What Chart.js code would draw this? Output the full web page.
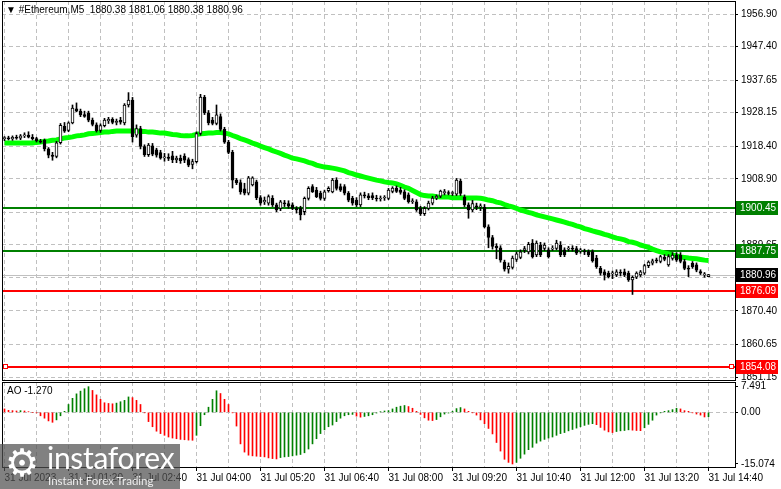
<!DOCTYPE html>
<html>
<head>
<meta charset="utf-8">
<title>#Ethereum,M5</title>
<script src="https://cdn.jsdelivr.net/npm/chart.js@4.4.1/dist/chart.umd.min.js"></script>
<style>
  html, body { margin: 0; padding: 0; background: #fff; }
  #wrap { position: relative; width: 781px; height: 489px; overflow: hidden; font-family: "Liberation Sans", Arial, sans-serif; }
  canvas { position: absolute; left: 0; }
  #main { top: 0; }
  #ao { top: 381px; }
  .caption { position: absolute; font-size: 10px; line-height: 12px; color: #000; white-space: pre; }
  #title { left: 6px; top: 4px; }
  #title .tri { font-size: 10px; }
  #aoTitle { left: 7px; top: 385px; }
  #wm { position: absolute; left: 0; top: 444px; width: 180px; height: 45px; background: rgba(80, 80, 80, 0.72); color: #fff; }
  #wm .gear { position: absolute; left: 5px; top: -1px; font-family: "DejaVu Sans", sans-serif; font-size: 38px; line-height: 40px; }
  #wm .brand { position: absolute; left: 47px; top: -4px; font-family: Lato, "Open Sans", sans-serif; font-size: 30px; line-height: 34px; letter-spacing: -0.3px; }
  #wm .tag { position: absolute; left: 48px; top: 30px; font-family: Lato, "Open Sans", sans-serif; font-size: 11.5px; line-height: 13px; color: rgba(255, 255, 255, 0.85); }
</style>
</head>
<body>
<div id="wrap">
  <canvas id="main" width="781" height="381"></canvas>
  <canvas id="ao" width="781" height="108"></canvas>
  <div id="title" class="caption"></div>
  <div id="aoTitle" class="caption"></div>
  <div id="wm"><span class="gear">⚙</span><span class="brand">instaforex</span><span class="tag">Instant Forex Trading</span></div>
</div>
<script>
// --- data (M5 bars, 31 Jul 00:00 .. 14:40) ---
const symbol = '#Ethereum,M5';

const timeLabels = ['31 Jul 2023', '31 Jul 01:20', '31 Jul 02:40', '31 Jul 04:00', '31 Jul 05:20', '31 Jul 06:40',
  '31 Jul 08:00', '31 Jul 09:20', '31 Jul 10:40', '31 Jul 12:00', '31 Jul 13:20', '31 Jul 14:40'];
const labelBars = [0, 16, 32, 48, 64, 80, 96, 112, 128, 144, 160, 176];

const priceTicks = [1956.90, 1947.40, 1937.65, 1928.15, 1918.40, 1908.90, 1899.15, 1889.65, 1880.15, 1870.40, 1860.65, 1851.15];
const aoTicks = [7.491, 0, -15.074];
const aoTickLabels = ['7.491', '0.00', '-15.074'];

const levels = [1900.45, 1887.75, 1876.09, 1854.08];

const opens = [
  1920.6, 1920.8, 1920.5, 1921.0, 1920.7, 1921.4, 1921.6, 1921.0, 1920.6, 1919.9,
  1920.1, 1917.6, 1915.8, 1915.4, 1919.4, 1924.2, 1923.0, 1925.2, 1929.3, 1928.6,
  1927.6, 1928.0, 1926.0, 1924.6, 1923.0, 1924.4, 1925.8, 1926.2, 1925.3, 1925.9,
  1925.2, 1930.4, 1931.8, 1921.6, 1923.5, 1918.3, 1915.9, 1918.5, 1917.3, 1916.5,
  1915.0, 1915.2, 1915.6, 1914.4, 1914.9, 1915.5, 1914.5, 1913.1, 1913.9, 1922.1,
  1932.6, 1928.1, 1926.0, 1925.0, 1927.0, 1923.3, 1919.6, 1916.6, 1908.5, 1907.8,
  1906.0, 1904.7, 1907.1, 1908.0, 1903.4, 1902.2, 1901.8, 1903.2, 1901.3, 1900.3,
  1901.8, 1901.7, 1901.3, 1900.2, 1900.3, 1899.3, 1903.2, 1906.6, 1905.6, 1904.7,
  1903.2, 1905.4, 1905.1, 1908.5, 1906.6, 1906.6, 1904.7, 1903.2, 1902.7, 1901.3,
  1904.2, 1903.9, 1904.0, 1903.3, 1903.0, 1903.3, 1903.2, 1905.2, 1906.2, 1905.6,
  1905.1, 1904.2, 1902.2, 1902.2, 1900.3, 1898.7, 1900.3, 1901.8, 1903.3, 1903.8,
  1904.8, 1904.8, 1904.6, 1904.4, 1908.2, 1903.6, 1901.3, 1899.8, 1901.0, 1900.6,
  1900.6, 1894.9, 1891.8, 1889.2, 1888.8, 1884.6, 1882.6, 1883.1, 1885.4, 1886.0,
  1888.0, 1887.6, 1890.2, 1886.7, 1889.6, 1888.6, 1888.2, 1888.4, 1888.6, 1889.6,
  1888.2, 1888.4, 1888.6, 1888.6, 1887.9, 1887.9, 1887.7, 1887.7, 1885.8, 1882.8,
  1881.8, 1881.4, 1881.2, 1880.9, 1881.6, 1881.8, 1881.4, 1879.4, 1880.2, 1880.9,
  1881.4, 1883.6, 1884.3, 1885.2, 1884.8, 1886.0, 1883.8, 1885.7, 1886.7, 1886.7,
  1884.8, 1882.8, 1884.3, 1883.8, 1881.9, 1880.9, 1880.38
];
const highs = [
  1921.2, 1921.3, 1921.4, 1921.6, 1921.8, 1922.3, 1922.6, 1921.8, 1921.0, 1920.4,
  1920.5, 1918.0, 1916.6, 1919.8, 1925.0, 1925.3, 1925.5, 1930.4, 1931.0, 1929.2,
  1928.6, 1928.6, 1926.6, 1925.2, 1924.9, 1926.5, 1926.8, 1926.7, 1926.3, 1926.8,
  1930.8, 1934.0, 1932.6, 1924.6, 1924.2, 1918.8, 1919.2, 1919.2, 1917.8, 1917.2,
  1916.3, 1916.2, 1916.9, 1915.5, 1915.8, 1916.2, 1915.0, 1914.6, 1922.6, 1933.5,
  1933.2, 1928.8, 1926.8, 1930.4, 1927.8, 1923.9, 1920.1, 1917.2, 1909.0, 1908.6,
  1907.6, 1909.6, 1909.5, 1908.5, 1904.0, 1903.6, 1904.2, 1904.0, 1901.8, 1902.6,
  1902.6, 1902.5, 1901.9, 1900.8, 1900.9, 1903.6, 1906.6, 1907.2, 1906.4, 1905.3,
  1905.6, 1906.6, 1909.0, 1909.2, 1907.4, 1907.2, 1905.2, 1903.8, 1903.4, 1904.8,
  1905.0, 1904.6, 1904.8, 1904.1, 1903.9, 1904.0, 1906.1, 1906.6, 1906.8, 1906.4,
  1905.7, 1904.8, 1903.1, 1902.8, 1900.9, 1900.8, 1902.4, 1903.8, 1904.2, 1905.6,
  1905.8, 1905.4, 1905.2, 1909.0, 1908.8, 1904.2, 1901.9, 1902.6, 1901.8, 1901.6,
  1901.4, 1895.5, 1892.4, 1890.0, 1889.4, 1885.2, 1884.4, 1886.4, 1887.6, 1888.2,
  1889.2, 1890.4, 1891.2, 1890.8, 1890.4, 1890.2, 1888.8, 1889.4, 1891.0, 1890.6,
  1888.8, 1889.2, 1889.4, 1889.2, 1888.6, 1888.4, 1888.2, 1888.2, 1886.6, 1883.4,
  1882.4, 1882.0, 1882.0, 1882.4, 1882.4, 1882.6, 1882.0, 1880.6, 1881.8, 1882.2,
  1884.0, 1885.0, 1885.5, 1885.8, 1886.6, 1886.8, 1886.8, 1887.4, 1887.4, 1887.4,
  1885.4, 1883.6, 1884.8, 1884.4, 1882.4, 1881.6, 1881.06
];
const lows = [
  1920.0, 1920.2, 1920.1, 1920.4, 1920.3, 1920.9, 1920.8, 1920.2, 1919.6, 1919.3,
  1917.0, 1915.0, 1914.3, 1915.0, 1919.0, 1922.4, 1922.6, 1924.9, 1928.4, 1927.0,
  1926.8, 1925.5, 1924.3, 1922.5, 1922.4, 1924.0, 1925.0, 1924.9, 1924.6, 1924.8,
  1924.6, 1929.8, 1919.6, 1921.0, 1917.6, 1915.4, 1915.4, 1915.6, 1915.2, 1914.6,
  1914.0, 1914.2, 1913.6, 1913.6, 1913.4, 1913.6, 1912.4, 1911.8, 1913.5, 1921.6,
  1927.6, 1924.6, 1924.6, 1924.6, 1922.8, 1919.2, 1916.2, 1906.2, 1907.2, 1904.4,
  1904.2, 1904.2, 1906.8, 1902.8, 1901.2, 1901.4, 1901.2, 1900.8, 1899.3, 1899.6,
  1900.8, 1900.3, 1899.9, 1898.9, 1896.9, 1898.4, 1902.7, 1904.9, 1903.4, 1902.7,
  1902.6, 1905.0, 1904.8, 1905.6, 1905.2, 1904.2, 1902.2, 1901.2, 1900.8, 1900.8,
  1903.3, 1902.8, 1902.8, 1902.4, 1902.4, 1902.6, 1902.8, 1904.8, 1904.9, 1904.4,
  1902.8, 1901.8, 1901.7, 1899.4, 1898.2, 1898.2, 1899.8, 1901.3, 1902.8, 1903.4,
  1904.2, 1904.2, 1904.0, 1904.0, 1904.0, 1900.8, 1897.4, 1899.3, 1899.9, 1899.6,
  1894.6, 1888.8, 1888.4, 1885.6, 1884.6, 1882.0, 1881.4, 1882.6, 1884.8, 1885.6,
  1887.4, 1887.0, 1885.8, 1886.2, 1886.2, 1888.0, 1885.8, 1888.0, 1888.2, 1886.2,
  1886.2, 1887.8, 1887.8, 1886.8, 1887.2, 1886.8, 1886.2, 1884.6, 1882.8, 1880.8,
  1879.4, 1880.0, 1879.8, 1880.4, 1880.6, 1880.4, 1879.0, 1875.2, 1879.8, 1880.4,
  1881.0, 1883.0, 1883.8, 1884.4, 1884.4, 1885.0, 1883.4, 1885.2, 1884.8, 1884.4,
  1882.4, 1880.4, 1882.8, 1881.8, 1881.0, 1880.2, 1880.38
];
const closes = [
  1920.8, 1920.5, 1921.0, 1920.7, 1921.4, 1921.6, 1921.0, 1920.6, 1919.9, 1919.6,
  1917.6, 1915.8, 1915.4, 1919.4, 1924.5, 1922.8, 1925.2, 1929.5, 1928.6, 1927.5,
  1927.1, 1926.0, 1924.7, 1922.9, 1924.4, 1926.0, 1926.2, 1925.3, 1925.6, 1925.4,
  1930.4, 1931.8, 1921.2, 1923.5, 1918.3, 1915.9, 1918.7, 1916.1, 1915.8, 1914.9,
  1915.2, 1914.8, 1914.4, 1914.9, 1914.2, 1914.3, 1912.9, 1913.9, 1922.1, 1932.7,
  1928.1, 1925.2, 1925.0, 1927.5, 1923.3, 1919.6, 1916.6, 1908.5, 1907.8, 1905.1,
  1904.7, 1909.2, 1909.2, 1903.4, 1901.8, 1902.6, 1903.7, 1901.3, 1899.8, 1902.2,
  1901.6, 1900.9, 1900.3, 1899.8, 1898.4, 1903.2, 1906.1, 1905.1, 1903.7, 1903.2,
  1905.1, 1906.1, 1908.5, 1906.1, 1905.6, 1904.7, 1902.7, 1901.8, 1901.3, 1904.2,
  1903.9, 1903.4, 1903.3, 1903.0, 1903.3, 1903.4, 1905.6, 1906.2, 1905.2, 1904.9,
  1903.2, 1902.2, 1902.5, 1899.8, 1898.7, 1900.3, 1901.8, 1903.3, 1903.8, 1905.3,
  1905.2, 1904.6, 1904.8, 1908.5, 1904.6, 1901.3, 1899.8, 1901.7, 1900.6, 1901.0,
  1894.9, 1891.8, 1889.2, 1888.8, 1885.2, 1882.6, 1883.4, 1885.8, 1887.0, 1887.6,
  1888.6, 1889.8, 1886.2, 1890.2, 1886.7, 1889.6, 1886.2, 1888.6, 1890.2, 1886.7,
  1886.7, 1888.6, 1888.4, 1887.2, 1888.2, 1887.6, 1886.7, 1885.0, 1883.3, 1881.4,
  1880.9, 1880.4, 1881.4, 1881.8, 1881.4, 1880.9, 1879.4, 1880.2, 1881.4, 1881.8,
  1883.6, 1884.6, 1885.0, 1885.0, 1886.2, 1885.4, 1886.2, 1886.7, 1885.2, 1884.8,
  1882.8, 1882.6, 1883.3, 1882.3, 1881.4, 1880.9, 1880.96
];
// lime moving average
const maValues = [
  1919.3, 1919.3, 1919.3, 1919.3, 1919.3, 1919.3, 1919.3, 1919.3, 1919.5, 1919.6,
  1919.8, 1919.9, 1920.1, 1920.2, 1920.5, 1920.8, 1920.9, 1921.1, 1921.4, 1921.5,
  1921.7, 1922.0, 1922.1, 1922.2, 1922.4, 1922.5, 1922.5, 1922.7, 1922.8, 1922.8,
  1922.8, 1922.8, 1922.8, 1922.8, 1922.7, 1922.7, 1922.5, 1922.5, 1922.4, 1922.2,
  1922.2, 1922.0, 1921.8, 1921.7, 1921.5, 1921.4, 1921.4, 1921.5, 1921.8, 1922.0,
  1922.1, 1922.2, 1922.2, 1922.4, 1922.4, 1922.2, 1922.0, 1921.5, 1921.1, 1920.6,
  1920.2, 1919.8, 1919.3, 1918.9, 1918.4, 1918.0, 1917.6, 1917.1, 1916.7, 1916.3,
  1915.8, 1915.4, 1914.9, 1914.7, 1914.4, 1914.1, 1913.7, 1913.4, 1912.9, 1912.6,
  1912.3, 1912.2, 1912.0, 1911.8, 1911.5, 1911.2, 1910.7, 1910.4, 1910.0, 1909.7,
  1909.4, 1909.1, 1908.8, 1908.5, 1908.3, 1908.0, 1907.8, 1907.7, 1907.4, 1907.0,
  1906.5, 1906.1, 1905.5, 1904.9, 1904.3, 1904.0, 1903.9, 1903.9, 1903.7, 1903.6,
  1903.6, 1903.6, 1903.4, 1903.4, 1903.4, 1903.3, 1903.3, 1903.3, 1903.3, 1903.2,
  1903.0, 1902.7, 1902.5, 1902.1, 1901.9, 1901.4, 1901.0, 1900.7, 1900.3, 1899.8,
  1899.5, 1899.1, 1898.8, 1898.4, 1898.1, 1897.8, 1897.5, 1897.2, 1896.9, 1896.6,
  1896.3, 1895.9, 1895.6, 1895.2, 1894.9, 1894.4, 1894.1, 1893.7, 1893.4, 1893.1,
  1892.7, 1892.4, 1892.0, 1891.6, 1891.4, 1891.1, 1890.6, 1890.4, 1890.1, 1889.6,
  1889.3, 1888.9, 1888.4, 1888.0, 1887.6, 1887.3, 1887.0, 1886.7, 1886.4, 1886.1,
  1886.0, 1885.8, 1885.7, 1885.6, 1885.4, 1885.2, 1885.1
];
// Awesome Oscillator
const aoValues = [
  1.0, 0.6, 0.5, 0.4, 0.5, 0.4, 0.2, 0.0, -0.1, -1.0,
  -1.7, -2.5, -2.9, -2.2, -1.0, 0.3, 2.3, 4.1, 5.4, 6.2,
  6.9, 7.491, 6.4, 5.1, 3.8, 2.8, 2.6, 2.5, 2.7, 3.1,
  3.5, 4.5, 4.3, 3.5, 2.3, -0.1, -2.7, -4.2, -5.5, -6.2,
  -6.7, -7.2, -7.5, -7.7, -7.9, -8.0, -8.1, -8.15, -6.7, -3.9,
  -0.7, 1.5, 3.8, 6.3, 5.5, 3.8, 2.3, -0.1, -4.0, -9.2,
  -11.6, -12.5, -12.7, -12.8, -12.9, -13.0, -13.3, -13.5, -13.6, -13.2,
  -13.0, -12.9, -12.7, -12.5, -12.3, -11.8, -10.7, -9.2, -7.7, -6.2,
  -5.1, -4.2, -3.7, -2.7, -1.7, -1.0, -0.7, -0.6, -1.1, -1.4,
  -1.2, -1.0, -0.7, -0.2, 0.2, 0.4, 0.5, 1.0, 1.5, 1.8,
  2.0, 1.7, 1.2, 0.3, -0.6, -1.6, -2.3, -2.4, -2.1, -1.3,
  -0.5, -0.2, 0.3, 1.1, 1.4, 1.0, 0.3, -0.1, -0.8, -2.2,
  -3.3, -4.7, -6.3, -8.8, -11.3, -13.7, -14.6, -15.074, -14.6, -13.4,
  -12.2, -10.9, -10.2, -9.0, -8.4, -7.9, -7.5, -7.2, -6.7, -6.2,
  -5.9, -5.4, -5.0, -4.6, -4.2, -3.8, -3.5, -3.3, -3.6, -4.4,
  -5.2, -5.7, -5.9, -5.6, -5.4, -5.3, -5.1, -5.2, -5.3, -5.35,
  -4.5, -3.5, -2.3, -0.8, -0.1, 0.3, 0.5, 0.8, 1.2, 1.0,
  0.5, 0.3, -0.1, -0.5, -0.8, -1.35, -1.27
];

// --- styling ---
const levelColors = ['#008000', '#008000', '#ff0000', '#ff0000'];
const levelMarkers = [false, false, false, true];
const gridColor = '#c0c0c0';
const font = { family: 'Liberation Sans', size: 10 };

Chart.defaults.font.family = 'Liberation Sans';
Chart.defaults.font.size = 10;
Chart.defaults.color = '#000';

const last = closes.length - 1;
const lastClose = closes[last];
const bars = closes.map((_, i) => i);
const gridBars = [];
for (let b = 0; b <= labelBars[labelBars.length - 1]; b += 8) gridBars.push(b);

// 4 px per bar, 733 px wide plot
const xMin = -0.625, xMax = 182.625;

document.getElementById('title').innerHTML =
  '<span class="tri">▼</span> ' + symbol + '  ' + [opens, highs, lows, closes].map(a => a[last].toFixed(2)).join(' ');
document.getElementById('aoTitle').textContent = 'AO ' + aoValues[last].toFixed(3);

function hline(ctx, x1, x2, y) {
  ctx.beginPath(); ctx.moveTo(x1, y); ctx.lineTo(x2, y); ctx.stroke();
}

const panelFrame = {
  id: 'panelFrame',
  afterDraw(chart) {
    const { ctx, chartArea: a } = chart;
    ctx.save();
    ctx.strokeStyle = '#000';
    ctx.lineWidth = 1;
    ctx.strokeRect(a.left + 0.5, a.top + 0.5, a.right - a.left, a.bottom - a.top);
    ctx.restore();
  }
};

const priceLevels = {
  id: 'priceLevels',
  beforeDatasetsDraw(chart) {
    const { ctx, chartArea: a, scales: { y } } = chart;
    ctx.save();
    ctx.strokeStyle = '#c0c0c0';
    ctx.lineWidth = 1;
    hline(ctx, a.left, a.right, Math.round(y.getPixelForValue(lastClose)) + 0.5);
    ctx.lineWidth = 2;
    levels.forEach((v, k) => {
      ctx.strokeStyle = levelColors[k];
      hline(ctx, a.left, a.right, Math.round(y.getPixelForValue(v)));
    });
    ctx.restore();
  },
  afterDraw(chart) {
    const { ctx, chartArea: a, scales: { y } } = chart;
    ctx.save();
    // small order markers at both ends
    levels.forEach((v, k) => {
      if (!levelMarkers[k]) return;
      const py = Math.round(y.getPixelForValue(v));
      [a.left + 3, a.right - 4].forEach(px => {
        ctx.fillStyle = '#fff';
        ctx.fillRect(px - 2, py - 3, 5, 5);
        ctx.strokeStyle = levelColors[k];
        ctx.lineWidth = 1;
        ctx.strokeRect(px - 1.5, py - 2.5, 4, 4);
      });
    });
    // price boxes on the right scale
    const boxes = levels.map((v, k) => ({ v, c: levelColors[k] }));
    boxes.push({ v: lastClose, c: '#000' });
    ctx.font = '10px "Liberation Sans"';
    ctx.textBaseline = 'middle';
    ctx.textAlign = 'left';
    boxes.forEach(b => {
      const py = Math.round(y.getPixelForValue(b.v));
      ctx.fillStyle = b.c;
      ctx.fillRect(a.right + 1, py - 7, 42, 14);
      ctx.fillStyle = '#fff';
      ctx.fillText(b.v.toFixed(2), a.right + 5, py + 0.5);
    });
    ctx.restore();
  }
};

const mainChart = new Chart(document.getElementById('main'), {
  type: 'bar',
  data: {
    datasets: [
      {
        label: 'body',
        data: bars.map(i => ({ x: i, y: [opens[i], closes[i]] })),
        backgroundColor: bars.map(i => closes[i] >= opens[i] ? '#fff' : '#000'),
        borderColor: '#000',
        borderWidth: 1,
        borderSkipped: false,
        barThickness: 3,
        minBarLength: 1,
        grouped: false,
        order: 0
      },
      {
        label: 'wick',
        data: bars.map(i => ({ x: i, y: [lows[i], highs[i]] })),
        backgroundColor: '#000',
        borderWidth: 0,
        barThickness: 1,
        grouped: false,
        order: 1
      },
      {
        type: 'line',
        label: 'MA',
        data: bars.map(i => ({ x: i, y: maValues[i] })),
        borderColor: '#00ff00',
        borderWidth: 5,
        pointRadius: 0,
        tension: 0,
        fill: false,
        order: 2
      }
    ]
  },
  options: {
    responsive: false,
    animation: false,
    devicePixelRatio: 1,
    layout: { padding: { left: 2, top: 1, right: 0, bottom: 1 } },
    plugins: { legend: { display: false }, tooltip: { enabled: false } },
    scales: {
      x: {
        type: 'linear', min: xMin, max: xMax, offset: false,
        afterBuildTicks: s => { s.ticks = gridBars.map(v => ({ value: v })); },
        afterFit: s => { s.height = 0; s.paddingLeft = 0; s.paddingRight = 0; },
        ticks: { display: false },
        grid: { offset: false, color: gridColor, drawTicks: false },
        border: { display: false, dash: [4, 3] }
      },
      y: {
        position: 'right', min: 1850.28, max: 1960.69, beginAtZero: false,
        afterBuildTicks: s => { s.ticks = priceTicks.map(v => ({ value: v })); },
        afterFit: s => { s.width = 46; s.paddingTop = 0; s.paddingBottom = 0; },
        ticks: { autoSkip: false, color: '#000', font, padding: 3, callback: v => v.toFixed(2) },
        grid: { color: gridColor, tickColor: '#000', tickLength: 3 },
        border: { display: false, dash: [4, 3] }
      }
    }
  },
  plugins: [priceLevels, panelFrame]
});

const aoChart = new Chart(document.getElementById('ao'), {
  type: 'bar',
  data: {
    datasets: [{
      label: 'AO',
      data: bars.map(i => ({ x: i, y: aoValues[i] })),
      backgroundColor: bars.map(i => (i > 0 && aoValues[i] > aoValues[i - 1]) ? '#008000' : '#ff0000'),
      borderWidth: 0,
      barThickness: 1,
      grouped: false
    }]
  },
  options: {
    responsive: false,
    animation: false,
    devicePixelRatio: 1,
    layout: { padding: { left: 2, top: 1, right: 0, bottom: 0 } },
    plugins: { legend: { display: false }, tooltip: { enabled: false } },
    scales: {
      x: {
        type: 'linear', min: xMin, max: xMax, offset: false,
        afterBuildTicks: s => { s.ticks = gridBars.map(v => ({ value: v })); },
        afterFit: s => { s.height = 22; s.paddingLeft = 0; s.paddingRight = 0; },
        ticks: {
          autoSkip: false, maxRotation: 0, minRotation: 0, align: 'start', padding: 1, color: '#000', font,
          callback: v => { const k = labelBars.indexOf(v); return k < 0 ? '' : timeLabels[k]; }
        },
        grid: {
          offset: false, color: gridColor, tickLength: 4,
          tickColor: c => (c.tick && labelBars.includes(c.tick.value)) ? '#000' : 'rgba(0,0,0,0)'
        },
        border: { display: false, dash: [4, 3] }
      },
      y: {
        position: 'right', min: -15.95, max: 8.86, beginAtZero: false,
        afterBuildTicks: s => { s.ticks = aoTicks.map(v => ({ value: v })); },
        afterFit: s => { s.width = 46; s.paddingTop = 0; s.paddingBottom = 0; },
        ticks: { autoSkip: false, color: '#000', font, padding: 3, callback: v => aoTickLabels[aoTicks.indexOf(v)] },
        grid: {
          color: c => (c.tick && c.tick.value === 0) ? gridColor : 'rgba(0,0,0,0)',
          tickColor: '#000', tickLength: 3
        },
        border: { display: false, dash: [4, 3] }
      }
    }
  },
  plugins: [panelFrame]
});
</script>
</body>
</html>
